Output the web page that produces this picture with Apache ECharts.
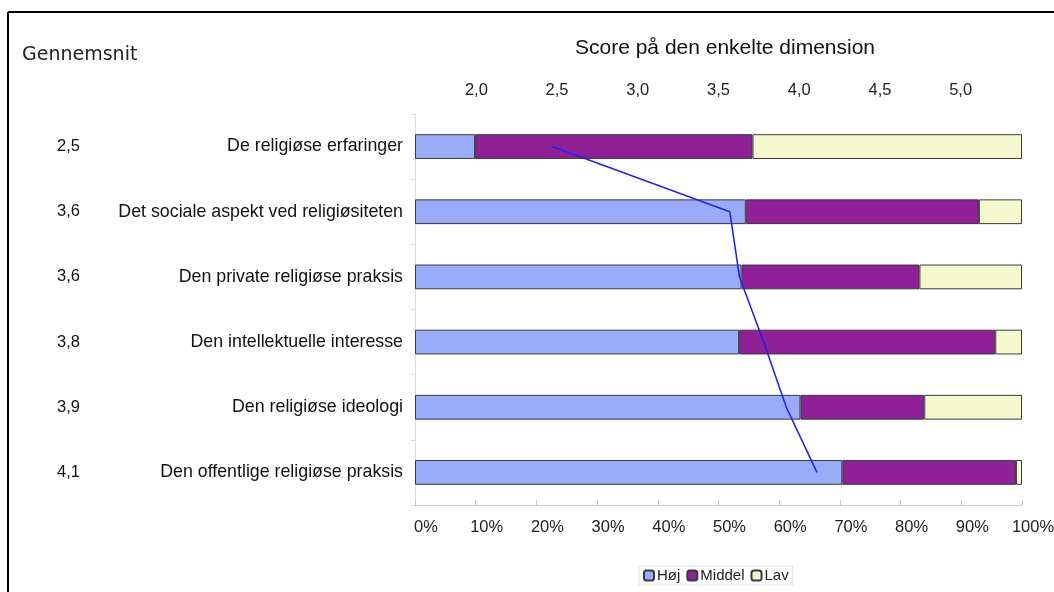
<!DOCTYPE html>
<html>
<head>
<meta charset="utf-8">
<script src="https://cdn.jsdelivr.net/npm/echarts@6/dist/echarts.min.js"></script>
<style>
  html, body { margin: 0; padding: 0; background: #fff; }
  #chart { width: 1054px; height: 592px; }
</style>
</head>
<body>
<div id="chart"></div>
<script>
'use strict';
// dimensioner (top -> bund)
let categories = [
    'De religiøse erfaringer',
    'Det sociale aspekt ved religiøsiteten',
    'Den private religiøse praksis',
    'Den intellektuelle interesse',
    'Den religiøse ideologi',
    'Den offentlige religiøse praksis',
];
let avgLabels = ['2,5', '3,6', '3,6', '3,8', '3,9', '4,1'];
// andel i procent
let hojData = [9.9, 54.5, 53.8, 53.4, 63.5, 70.4];
let middelData = [45.7, 38.4, 29.3, 42.2, 20.4, 28.6];
let lavData = [44.4, 7.1, 16.9, 4.4, 16.1, 1.0];
// gennemsnitlig score (1-5)
let scoreData = [2.47, 3.57, 3.63, 3.78, 3.92, 4.11];
let scoreTicks = [2, 2.5, 3, 3.5, 4, 4.5, 5];

let font = 'Liberation Sans, Arial, sans-serif';
let myChart = echarts.init(document.getElementById('chart'));

let barStyle = function(color) {
    return {
        color: color,
        borderColor: '#3a3a3a',
        borderWidth: 1,
    };
};

let option = {
    animation: false,
    backgroundColor: '#fff',
    title: [
        {
            text: 'Score på den enkelte dimension',
            left: 570,
            top: 33,
            textStyle: { fontFamily: font, fontWeight: 'normal', fontSize: 21, color: '#111' },
        },
        {
            text: 'Gennemsnit',
            left: 17,
            top: 41,
            textStyle: { fontFamily: 'DejaVu Sans, Verdana, sans-serif', fontWeight: 'normal', fontSize: 19, color: '#222' },
        },
    ],
    graphic: [
        { type: 'line', shape: { x1: 8, y1: 12, x2: 1054, y2: 12 }, style: { stroke: '#000', lineWidth: 2 } },
        { type: 'line', shape: { x1: 8, y1: 12, x2: 8, y2: 592 }, style: { stroke: '#000', lineWidth: 2 } },
    ],
    legend: {
        data: ['Høj', 'Middel', 'Lav'],
        left: 639,
        top: 566,
        itemWidth: 10,
        itemHeight: 10,
        itemGap: 6,
        padding: [2, 4],
        borderColor: '#e2e2e2',
        borderWidth: 1,
        textStyle: { fontFamily: font, fontSize: 15, color: '#222', padding: [0, 0, 0, -2] },
    },
    grid: {
        left: 415,
        right: 32,
        top: 114,
        height: 391,
        containLabel: false,
        outerBoundsMode: 'none',
    },
    xAxis: [
        {
            type: 'value',
            min: 0,
            max: 100,
            interval: 10,
            position: 'bottom',
            axisLine: { show: true, lineStyle: { color: '#c8c8c8' } },
            axisTick: { show: true, inside: true, length: 5, lineStyle: { color: '#c8c8c8' } },
            splitLine: { show: false },
            axisLabel: {
                formatter: '{value}%',
                fontFamily: font,
                fontSize: 16.5,
                color: '#222',
                margin: 14,
                padding: [0, 0, 0, 22],
                hideOverlap: false,
            },
        },
        {
            type: 'value',
            min: 1.62,
            max: 5.38,
            position: 'top',
            axisLine: { show: false },
            axisTick: { show: false },
            splitLine: { show: false },
            axisLabel: {
                customValues: scoreTicks,
                formatter: function(v) {
                    return v.toFixed(1).replace('.', ',');
                },
                fontFamily: font,
                fontSize: 16.5,
                color: '#222',
                margin: 15,
            },
        },
    ],
    yAxis: [
        {
            type: 'category',
            data: categories,
            inverse: true,
            axisLine: { show: true, lineStyle: { color: '#dcdcdc' } },
            axisTick: { show: true, length: 4, lineStyle: { color: '#dcdcdc' } },
            axisLabel: { fontFamily: font, fontSize: 17.8, color: '#111', margin: 12 },
        },
        {
            type: 'category',
            data: avgLabels,
            inverse: true,
            position: 'left',
            offset: 327,
            axisLine: { show: false },
            axisTick: { show: false },
            axisLabel: { fontFamily: font, fontSize: 16.5, color: '#111', margin: 8 },
        },
    ],
    series: [
        {
            name: 'Høj',
            type: 'bar',
            stack: 'andel',
            barWidth: '38%',
            data: hojData,
            itemStyle: barStyle('#9aabfa'),
        },
        {
            name: 'Middel',
            type: 'bar',
            stack: 'andel',
            data: middelData,
            itemStyle: barStyle('#8f2097'),
        },
        {
            name: 'Lav',
            type: 'bar',
            stack: 'andel',
            data: lavData,
            itemStyle: barStyle('#f6f9cd'),
        },
        {
            name: 'Score',
            type: 'line',
            xAxisIndex: 1,
            yAxisIndex: 0,
            data: scoreData.map(function(v, i) {
                return [v, categories[i]];
            }),
            symbol: 'none',
            lineStyle: { color: '#2424e6', width: 1.6 },
            z: 5,
        },
    ],
};
myChart.setOption(option);
</script>
</body>
</html>
